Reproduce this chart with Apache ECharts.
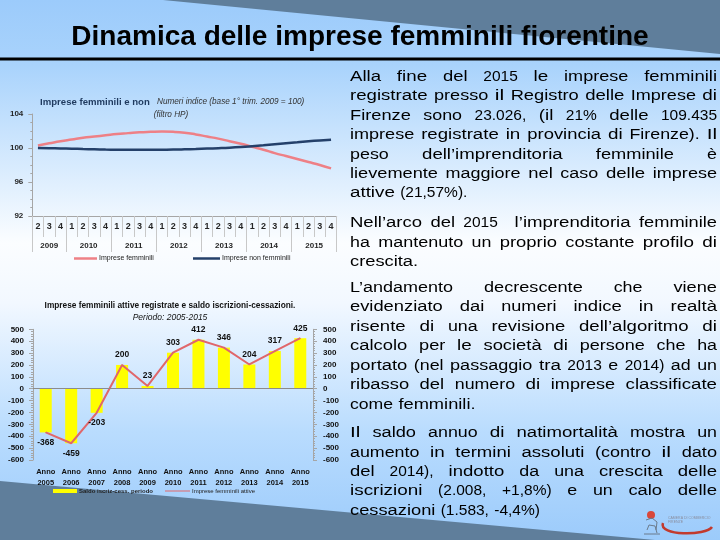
<!DOCTYPE html>
<html><head><meta charset="utf-8">
<script src="https://cdn.jsdelivr.net/npm/echarts@6/dist/echarts.min.js"></script>
<style>html,body{margin:0;padding:0;width:720px;height:540px;overflow:hidden;background:#fff}#c{width:720px;height:540px}</style>
</head><body><div id="c"></div>
<script>
// ---------- DATA ----------
const quarterLabels = ['2','3','4','1','2','3','4','1','2','3','4','1','2','3','4','1','2','3','4','1','2','3','4','1','2','3','4'];
const yearLabels = ['2009','2010','2011','2012','2013','2014','2015'];
const quartersPerYear = [3,4,4,4,4,4,4];
const femminili = [100.3,100.55,100.8,101.0,101.2,101.35,101.5,101.65,101.75,101.85,101.9,101.93,101.9,101.8,101.6,101.35,101.1,100.8,100.5,100.15,99.8,99.4,99.05,98.7,98.35,98.0,97.6];
const nonFemminili = [100.0,99.98,99.95,99.92,99.88,99.85,99.82,99.8,99.79,99.79,99.79,99.8,99.81,99.84,99.88,99.93,99.98,100.04,100.12,100.22,100.33,100.45,100.57,100.68,100.79,100.89,100.98];
const indexTicks = {min:92, max:104, interval:4};

const anni = ['Anno\n2005','Anno\n2006','Anno\n2007','Anno\n2008','Anno\n2009','Anno\n2010','Anno\n2011','Anno\n2012','Anno\n2013','Anno\n2014','Anno\n2015'];
const saldo = [-368,-459,-203,200,23,303,412,346,204,317,425];
const attive = [-368,-459,-203,200,23,303,412,346,204,317,425];
const saldoTicks = {min:-600, max:500, interval:100};

const slideTitle = 'Dinamica delle imprese femminili fiorentine';
const paragraphs = [
  {lines:['Alla fine del 2015 le imprese femminili','registrate presso il Registro delle Imprese di','Firenze sono 23.026, (il 21% delle 109.435','imprese registrate in provincia di Firenze). Il','peso dell’imprenditoria femminile è','lievemente maggiore nel caso delle imprese','attive (21,57%).'], y:[77,96,115.5,135,154.5,174,193]},
  {lines:['Nell’arco del 2015  l’imprenditoria femminile','ha mantenuto un proprio costante profilo di','crescita.'], y:[223,242.5,262]},
  {lines:['L’andamento decrescente che viene','evidenziato dai numeri indice in realtà','risente di una revisione dell’algoritmo di','calcolo per le società di persone che ha','portato (nel passaggio tra 2013 e 2014) ad un','ribasso del numero di imprese classificate','come femminili.'], y:[287.5,307,326.5,346,365.5,385,404.5]},
  {lines:['Il saldo annuo di natimortalità mostra un','aumento in termini assoluti (contro il dato','del 2014), indotto da una crescita delle','iscrizioni (2.008, +1,8%) e un calo delle','cessazioni (1.583, -4,4%)'], y:[433,452.5,472,491,510.5]}
];

// ---------- BUILD ----------
const FF = '"Liberation Sans", Arial, sans-serif';
const TX = 350, TW = 367, TFS = 15.5, LS = 1.3;
const mctx = document.createElement('canvas').getContext('2d');
mctx.font = TFS + 'px ' + FF;
const spaceW = mctx.measureText(' ').width;

function txt(x, y, text, font, fill, align) {
  return {type:'text', x:x, y:y, z:10, style:{text:text, font:font, fill:fill, textAlign:align||'left', align:align||'left', textVerticalAlign:'middle', verticalAlign:'middle'}};
}

const textEls = [];
paragraphs.forEach(p => {
  p.lines.forEach((line, li) => {
    const last = li === p.lines.length - 1;
    const y = p.y[li];
    const words = line.split(' ');
    const nat = words.map(w => mctx.measureText(w).width);
    const letters = words.map(w => (w.match(/[A-Za-zÀ-ÿ’]/g) || []).length);
    let tgt = nat.map((n,i) => n + LS*letters[i]);
    const sumT = tgt.reduce((a,b)=>a+b,0);
    let gap = spaceW + 1;
    if (!last) {
      gap = (TW - sumT) / (words.length - 1);
      if (gap < spaceW) {
        const sumN = nat.reduce((a,b)=>a+b,0);
        const f = (TW - spaceW*(words.length-1) - sumN) / (sumT - sumN);
        tgt = nat.map((n,i) => n + LS*letters[i]*Math.max(0,f));
        gap = spaceW;
      }
    }
    let x = TX;
    words.forEach((w,i) => {
      if (w.length) {
        const el = txt(x, y, w, TFS+'px '+FF, '#000');
        el.scaleX = tgt[i] / nat[i];
        textEls.push(el);
      }
      x += tgt[i] + gap;
    });
  });
});

// year axis built on half-cell boundary points
const yearBoundaries = new Set([0]);
const centerMap = {};
let cellPos = 0;
quartersPerYear.forEach((n, i) => { centerMap[cellPos*2 + n] = yearLabels[i]; cellPos += n; yearBoundaries.add(cellPos*2); });
const yearAxis = [];
for (let k = 0; k <= cellPos*2; k++) yearAxis.push(centerMap[k] || '');

const bg = {type:'rect', z:-10, shape:{x:0,y:0,width:720,height:540}, style:{fill:new echarts.graphic.LinearGradient(0,0,0,1,[
  {offset:0,color:'#9ccbfb'},{offset:0.12,color:'#a9d3fc'},{offset:0.45,color:'#fbfdff'},{offset:0.56,color:'#f2f8ff'},{offset:0.8,color:'#b9dcfe'},{offset:1,color:'#9ccbfb'}])}};

const grey = '#5f7e9b';
const graphics = [
  bg,
  {type:'polygon', z:-9, shape:{points:[[163,0],[720,0],[720,54]]}, style:{fill:grey}},
  {type:'polygon', z:-9, shape:{points:[[0,481],[655,540],[0,540]]}, style:{fill:grey}},
  {type:'rect', z:-8, shape:{x:0,y:57.5,width:720,height:3}, style:{fill:'#000'}},
  txt(360, 37, slideTitle, 'bold 28px '+FF, '#000', 'center'),
  txt(40, 102, 'Imprese femminili e non', 'bold 9.6px '+FF, '#1f3a5f'),
  txt(157, 102, 'Numeri indice (base 1° trim. 2009 = 100)', 'italic 8.2px '+FF, '#333'),
  txt(171, 115, '(filtro HP)', 'italic 8.2px '+FF, '#333', 'center'),
  txt(170, 306, 'Imprese femminili attive registrate e saldo iscrizioni-cessazioni.', 'bold 8.3px '+FF, '#111', 'center'),
  txt(170, 318, 'Periodo: 2005-2015', 'italic 8.5px '+FF, '#111', 'center'),
  // logo
  {type:'bezierCurve', z:10, shape:{x1:663,y1:523,x2:712,y2:527,cpx1:658,cpy1:536,cpx2:706,cpy2:536}, style:{stroke:'#c23a2e', lineWidth:2.5, fill:null}},
  {type:'circle', z:10, shape:{cx:651,cy:515,r:4}, style:{fill:'#d9473a'}},
  {type:'polyline', z:10, shape:{points:[[646,520],[652,518],[657,522],[656,530]]}, style:{stroke:'#6b7b8c', lineWidth:1, fill:null}},
  {type:'polyline', z:10, shape:{points:[[647,530],[649,525],[655,526],[657,533]]}, style:{stroke:'#6b7b8c', lineWidth:1, fill:null}},
  {type:'line', z:10, shape:{x1:644,y1:534,x2:660,y2:534}, style:{stroke:'#6b7b8c', lineWidth:1}},
  txt(668, 518, 'CAMERA DI COMMERCIO', '3.5px '+FF, '#8a8fa0'),
  txt(668, 522, 'FIRENZE', '3.5px '+FF, '#8a8fa0')
].concat(textEls);

const axisGrey = '#a6a6a6';
const labelFont = {fontFamily:FF, fontWeight:'bold', color:'#262626'};

const chart = echarts.init(document.getElementById('c'), null, {renderer:'canvas'});
chart.setOption({
  animation:false,
  backgroundColor:'transparent',
  graphic:{elements:graphics},
  grid:[
    {left:32.3, top:114, width:304.4, height:102},
    {left:33, top:329.3, width:280, height:130.7}
  ],
  xAxis:[
    {type:'category', gridIndex:0, data:quarterLabels, boundaryGap:true,
      axisLine:{show:true, lineStyle:{color:axisGrey}},
      axisTick:{show:true, interval:0, length:21, lineStyle:{color:'#c8c8c8'}},
      axisLabel:{interval:0, margin:6, fontSize:9, ...labelFont}},
    {type:'category', gridIndex:0, data:yearAxis, boundaryGap:false, position:'bottom', offset:21,
      axisLine:{show:false},
      axisTick:{show:true, length:15, interval:(i)=>yearBoundaries.has(i), lineStyle:{color:'#c8c8c8'}},
      axisLabel:{interval:(i)=>!!centerMap[i], margin:5, fontSize:8, ...labelFont}},
    {type:'category', gridIndex:1, data:anni, boundaryGap:true,
      axisLine:{show:false, onZero:false}, axisTick:{show:false},
      axisLabel:{interval:0, margin:7, fontSize:7.5, lineHeight:10.5, ...labelFont, color:'#111'}}
  ],
  yAxis:[
    {type:'value', gridIndex:0, min:indexTicks.min, max:indexTicks.max, interval:indexTicks.interval,
      axisLine:{show:true, lineStyle:{color:axisGrey}},
      axisTick:{show:true, length:4, lineStyle:{color:axisGrey}},
      minorTick:{show:true, splitNumber:4, length:2, lineStyle:{color:axisGrey}},
      splitLine:{show:false},
      axisLabel:{margin:9, fontSize:8, ...labelFont}},
    {type:'value', gridIndex:1, position:'left', min:saldoTicks.min, max:saldoTicks.max, interval:saldoTicks.interval,
      axisLine:{show:true, lineStyle:{color:axisGrey}},
      axisTick:{show:true, length:4, lineStyle:{color:axisGrey}},
      minorTick:{show:true, splitNumber:5, length:2, lineStyle:{color:axisGrey}},
      splitLine:{show:false},
      axisLabel:{margin:9, fontSize:8, ...labelFont, color:'#111'}},
    {type:'value', gridIndex:1, position:'right', min:saldoTicks.min, max:saldoTicks.max, interval:saldoTicks.interval,
      axisLine:{show:true, lineStyle:{color:axisGrey}},
      axisTick:{show:true, length:4, lineStyle:{color:axisGrey}},
      minorTick:{show:true, splitNumber:5, length:2, lineStyle:{color:axisGrey}},
      splitLine:{show:false},
      axisLabel:{margin:10, fontSize:8, ...labelFont, color:'#111'}}
  ],
  legend:[
    {data:['Imprese femminili'], left:74, top:255, padding:0, icon:'rect', itemWidth:23, itemHeight:2.5, itemGap:0, selectedMode:false, textStyle:{fontSize:7, fontFamily:FF, color:'#222', padding:[0,0,0,-3]}},
    {data:['Imprese non femminili'], left:193, top:255, padding:0, icon:'rect', itemWidth:27, itemHeight:2.5, itemGap:0, selectedMode:false, textStyle:{fontSize:7, fontFamily:FF, color:'#222', padding:[0,0,0,-3]}},
    {data:['Saldo iscriz-cess. periodo'], left:53, top:488, padding:0, icon:'rect', itemWidth:24, itemHeight:4, itemGap:0, selectedMode:false, textStyle:{fontSize:6, fontFamily:FF, fontWeight:'bold', color:'#222', padding:[0,0,0,-3]}},
    {data:['Imprese femminili attive'], left:165, top:488, padding:0, icon:'rect', itemWidth:25, itemHeight:1, itemGap:0, selectedMode:false, textStyle:{fontSize:6, fontFamily:FF, color:'#222', padding:[0,0,0,-3]}}
  ],
  series:[
    {name:'Imprese femminili', type:'line', xAxisIndex:0, yAxisIndex:0, data:femminili, smooth:true, symbol:'none',
      lineStyle:{color:'#ee8086', width:2.5}, itemStyle:{color:'#ee8086'}},
    {name:'Imprese non femminili', type:'line', xAxisIndex:0, yAxisIndex:0, data:nonFemminili, smooth:true, symbol:'none',
      lineStyle:{color:'#24406a', width:2.5}, itemStyle:{color:'#24406a'}},
    {name:'Saldo iscriz-cess. periodo', type:'bar', xAxisIndex:2, yAxisIndex:1, data:saldo, barWidth:12,
      itemStyle:{color:'#ffff00'},
      markLine:{silent:true, symbol:'none', label:{show:false}, lineStyle:{color:'#8c8c8c', type:'solid', width:1}, data:[{yAxis:0}]}},
    {name:'Imprese femminili attive', type:'line', xAxisIndex:2, yAxisIndex:2, symbol:'circle', symbolSize:1, showSymbol:true,
      data:attive.map(v => ({value:v, label:{position: v < 0 ? 'bottom' : 'top'}})),
      lineStyle:{color:'#e0676b', width:2}, itemStyle:{color:'#e0676b'},
      label:{show:true, distance:5, fontSize:8.5, fontFamily:FF, fontWeight:'bold', color:'#111'}}
  ]
});
</script></body></html>
